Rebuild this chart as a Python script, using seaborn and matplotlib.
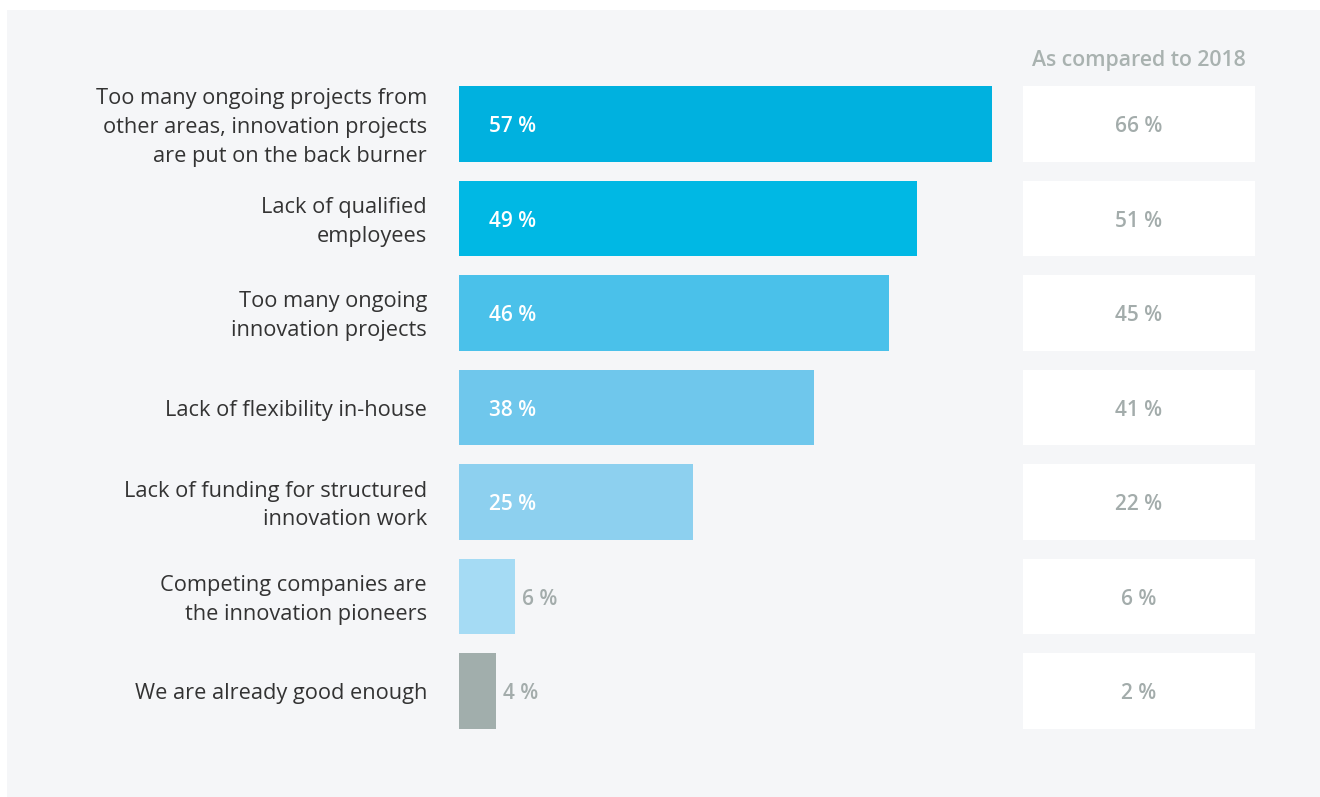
import matplotlib
matplotlib.use("Agg")
import matplotlib.pyplot as plt
from matplotlib.patches import Rectangle
from matplotlib.transforms import ScaledTranslation
import seaborn as sns
import pandas as pd

# Survey data: obstacles to innovation work
categories = [
    "Too many ongoing projects from\nother areas, innovation projects\nare put on the back burner",
    "Lack of qualified\nemployees",
    "Too many ongoing\ninnovation projects",
    "Lack of flexibility in-house",
    "Lack of funding for structured\ninnovation work",
    "Competing companies are\nthe innovation pioneers",
    "We are already good enough",
]
values_current = [57, 49, 46, 38, 25, 6, 4]
values_2018 = [66, 51, 45, 41, 22, 6, 2]
bar_colors = ["#00b1df", "#00b8e4", "#4ac1ea", "#6fc7ec", "#8dd0ef", "#a5dbf4", "#a1aeac"]
compare_title = "As compared to 2018"

sns.set_theme(style="white")
plt.rcParams["font.family"] = ["Open Sans", "DejaVu Sans"]

W, H = 1320, 797
fig = plt.figure(figsize=(W / 100, H / 100), dpi=100)
fig.patch.set_facecolor("white")

# light panel behind the chart
panel_color = "#f5f6f8"
fig.patches.append(Rectangle((7 / W, 0), 1 - 7 / W, (H - 10) / H,
                             transform=fig.transFigure, facecolor=panel_color,
                             edgecolor="none", zorder=-5))

def fig_rect(x0, y0, x1, y1):
    return [x0 / W, (H - y1) / H, (x1 - x0) / W, (y1 - y0) / H]

n = len(categories)
bar_h = 0.804
half = bar_h / 2
px_per_unit = 9.35
value_size = 15
label_grey = "#a3acab"

df = pd.DataFrame({"category": categories, "value": values_current,
                   "value_2018": values_2018})

# main bars
ax = fig.add_axes(fig_rect(459, 86, 1320, 729))
ax.set_facecolor("none")
sns.barplot(data=df, y="category", x="value", hue="category",
            palette=bar_colors, orient="h", width=bar_h, ax=ax,
            legend=False, saturation=1, edgecolor="none", linewidth=0)
ax.set_xlim(0, (1320 - 459) / px_per_unit)
ax.set_ylim(n - 1 + half, -half)
ax.set_xlabel("")
ax.set_ylabel("")
ax.set_xticks([])
for s in ax.spines.values():
    s.set_visible(False)
ax.tick_params(axis="y", length=0, pad=23, labelsize=15.7, labelcolor="#333333")
# nudge wrapped labels up slightly so their block is centred on the bar
lift = ScaledTranslation(0, 3 / 100, fig.dpi_scale_trans)
for lbl in ax.get_yticklabels():
    lbl.set_linespacing(1.48)
    lbl.set_multialignment("right")
    if "\n" in lbl.get_text():
        lbl.set_transform(lbl.get_transform() + lift)

for i, v in enumerate(values_current):
    txt = f"{v} %"
    if v >= 10:
        ax.annotate(txt, (0, i), xytext=(21.5, -2), textcoords="offset points",
                    ha="left", va="center", color="white", fontsize=value_size,
                    fontweight="semibold")
    else:
        ax.annotate(txt, (v, i), xytext=(5, -2), textcoords="offset points",
                    ha="left", va="center", color=label_grey, fontsize=value_size,
                    fontweight="semibold")

# comparison column
ax2 = fig.add_axes(fig_rect(1023, 86, 1255, 729))
ax2.set_facecolor("none")
ax2.barh(range(n), [1] * n, height=bar_h, left=0, color="white", linewidth=0)
ax2.set_xlim(0, 1)
ax2.set_ylim(n - 1 + half, -half)
ax2.axis("off")
for i, v in enumerate(values_2018):
    ax2.annotate(f"{v} %", (0.5, i), xytext=(0, -2), textcoords="offset points",
                 ha="center", va="center", color=label_grey,
                 fontsize=value_size, fontweight="semibold")
ax2.annotate(compare_title, (0.5, -half), xytext=(0, 18.5), textcoords="offset points",
             ha="center", va="center", color="#a9b2b0", fontsize=15.3,
             fontweight="semibold", annotation_clip=False)

fig.savefig("out.png", dpi=100, facecolor=fig.get_facecolor())
